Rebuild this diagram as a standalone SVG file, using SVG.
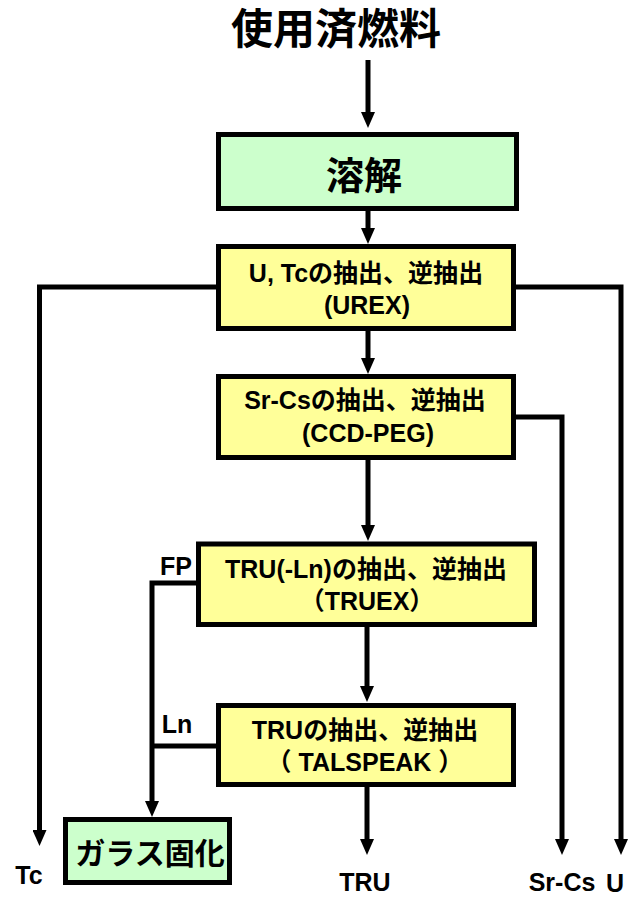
<svg xmlns="http://www.w3.org/2000/svg" width="633" height="897" viewBox="0 0 633 897">
<style>
.t{font-family:"Liberation Sans","Noto Sans CJK JP",sans-serif;font-weight:bold;fill:#000;text-anchor:middle}
.y{fill:#ffff99;stroke:#000;stroke-width:5}
.g{fill:#ccffcc;stroke:#000;stroke-width:5}
.c{fill:none;stroke:#000;stroke-width:5;stroke-linejoin:miter}
</style>
<defs>
<marker id="ah" markerUnits="userSpaceOnUse" markerWidth="16" markerHeight="14" refX="8" refY="7" orient="auto">
<path d="M0,0 L16,7 L0,14 z" fill="#000"/>
</marker>
</defs>
<rect width="633" height="897" fill="#fff"/>
<g id="title"><text class="t" x="336" y="44" font-size="42">使用済燃料</text></g>
<g id="dissolve"><rect class="g" x="218.5" y="134.5" width="298" height="74"/><text class="t" x="364" y="189" font-size="38">溶解</text></g>
<g id="urex"><rect class="y" x="218.5" y="246.5" width="295" height="82"/>
<text class="t" x="366" y="282" font-size="25">U, Tcの抽出、逆抽出</text>
<text class="t" x="367" y="314" font-size="25">(UREX)</text></g>
<g id="ccdpeg"><rect class="y" x="218.5" y="376.5" width="295" height="81"/>
<text class="t" x="365" y="409" font-size="25">Sr-Csの抽出、逆抽出</text>
<text class="t" x="368" y="442" font-size="25">(CCD-PEG)</text></g>
<g id="truex"><rect class="y" x="198.5" y="544" width="336" height="80.5"/>
<text class="t" x="366" y="578" font-size="25">TRU(-Ln)の抽出、逆抽出</text>
<text class="t" x="367" y="610" font-size="25">（TRUEX）</text></g>
<g id="talspeak"><rect class="y" x="218.5" y="705.5" width="295" height="79"/>
<text class="t" x="365" y="739" font-size="25">TRUの抽出、逆抽出</text>
<text class="t" x="365" y="771" font-size="25">（ TALSPEAK ）</text></g>
<g id="vitrify"><rect class="g" x="65.5" y="819.5" width="164" height="63"/><text class="t" x="150" y="864" font-size="30">ガラス固化</text></g>
<g id="connectors">
<path class="c" d="M368,60 V120" marker-end="url(#ah)"/>
<path class="c" d="M368,211 V236" marker-end="url(#ah)"/>
<path class="c" d="M368,331 V366" marker-end="url(#ah)"/>
<path class="c" d="M368,460 V533" marker-end="url(#ah)"/>
<path class="c" d="M367,627 V694" marker-end="url(#ah)"/>
<path class="c" d="M367,787 V847" marker-end="url(#ah)"/>
<path class="c" d="M216,287 H39.5 V838" marker-end="url(#ah)"/>
<path class="c" d="M516,287 H621 V847" marker-end="url(#ah)"/>
<path class="c" d="M516,417 H562 V847" marker-end="url(#ah)"/>
<path class="c" d="M196,583 H152 V809" marker-end="url(#ah)"/>
<path class="c" d="M216,746 H152"/>
</g>
<g id="labels">
<text class="t" x="176" y="575" font-size="25">FP</text>
<text class="t" x="177" y="733" font-size="25">Ln</text>
<text class="t" x="29" y="884" font-size="25">Tc</text>
<text class="t" x="365" y="891" font-size="25">TRU</text>
<text class="t" x="562" y="891" font-size="25">Sr-Cs</text>
<text class="t" x="615" y="892" font-size="25">U</text>
</g>
</svg>
